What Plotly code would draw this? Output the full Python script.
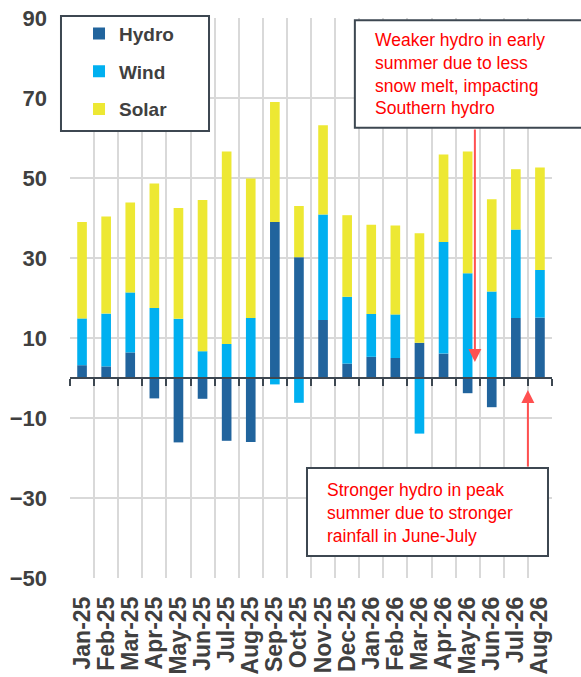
import plotly.graph_objects as go

months = ["Jan-25", "Feb-25", "Mar-25", "Apr-25", "May-25", "Jun-25", "Jul-25", "Aug-25",
          "Sep-25", "Oct-25", "Nov-25", "Dec-25", "Jan-26", "Feb-26", "Mar-26", "Apr-26",
          "May-26", "Jun-26", "Jul-26", "Aug-26"]
hydro = [3.2, 2.9, 6.4, -5.1, -16.1, -5.2, -15.7, -16.0, 39.0, 30.2,
         14.5, 3.6, 5.3, 5.0, 8.8, 6.1, -3.8, -7.3, 15.0, 15.1]
wind = [11.7, 13.2, 15.0, 17.5, 14.8, 6.7, 8.5, 15.0, -1.6, -6.2,
        26.4, 16.7, 10.7, 10.9, -13.9, 27.9, 26.2, 21.6, 22.1, 11.9]
solar = [24.1, 24.3, 22.5, 31.1, 27.7, 37.8, 48.1, 34.9, 30.0, 12.8,
         22.3, 20.4, 22.3, 22.2, 27.4, 21.9, 30.4, 23.1, 15.1, 25.6]
y_ticks = [-50, -30, -10, 10, 30, 50, 70, 90]

note_early = "Weaker hydro in early<br>summer due to less<br>snow melt, impacting<br>Southern hydro"
note_peak = "Stronger hydro in peak<br>summer due to stronger<br>rainfall in June-July"

C_HYDRO = "#21649D"
C_WIND = "#00B0F0"
C_SOLAR = "#EDE833"
TXT = "#404040"
GRID = "#D9D9D9"
AXIS = "#3D4751"
RED = "#FF0000"
ARROW = "#FF5050"
FONT = "Arial, Liberation Sans, sans-serif"

fig = go.Figure()
for name, vals, col in [("Hydro", hydro, C_HYDRO), ("Wind", wind, C_WIND), ("Solar", solar, C_SOLAR)]:
    fig.add_trace(go.Bar(x=months, y=vals, name=name, marker=dict(color=col, line=dict(width=0)),
                         legendgroup=name))

# invisible helper trace to carry the zero-line tick axis
fig.add_trace(go.Scatter(x=months, y=hydro, xaxis="x2", mode="markers",
                         marker=dict(opacity=0), showlegend=False, hoverinfo="skip"))

fig.update_layout(
    width=581, height=677,
    margin=dict(l=70, r=29, t=18, b=99),
    template="none",
    paper_bgcolor="white", plot_bgcolor="white",
    barmode="relative", bargap=0.6,
    font=dict(family=FONT, color=TXT),
    showlegend=True,
    legend=dict(x=0.0187, y=1.006, xanchor="left", yanchor="top",
                bgcolor="rgba(0,0,0,0)", borderwidth=0,
                traceorder="grouped", tracegroupgap=10,
                font=dict(family=FONT, size=19, color=TXT, weight="bold")),
    xaxis=dict(type="category", range=[-0.5, 19.5], tickson="boundaries",
               tickmode="linear", dtick=1,
               showgrid=True, gridcolor=GRID, gridwidth=2, ticks="", showline=False,
               zeroline=False, tickangle=-90, ticklabelstandoff=13,
               tickfont=dict(family=FONT, size=23, color=TXT, weight="bold"),
               automargin=False),
    xaxis2=dict(type="category", overlaying="x", anchor="free", position=50 / 140,
                range=[-0.5, 19.5], tickson="boundaries", tickmode="linear", dtick=1,
                showgrid=False,
                showticklabels=False, ticks="outside", ticklen=7, tickwidth=2,
                tickcolor=AXIS, showline=True, linecolor=AXIS, linewidth=2,
                zeroline=False, automargin=False),
    yaxis=dict(range=[-50, 90], tickvals=y_ticks, showgrid=True, gridcolor=GRID,
               gridwidth=2, zeroline=False, showline=False, ticks="",
               ticklabelstandoff=22,
               tickfont=dict(family=FONT, size=22, color=TXT, weight="bold"),
               automargin=False),
)

# Legend frame and note boxes (paper coordinates)
fig.add_shape(type="rect", xref="paper", yref="paper", x0=-0.0187, x1=0.2884, y0=0.798, y1=1.0036,
              line=dict(color=AXIS, width=2), fillcolor="white", layer="above")
fig.add_shape(type="rect", xref="paper", yref="paper", x0=0.591, x1=1.07, y0=0.804, y1=0.996,
              line=dict(color=AXIS, width=2), fillcolor="white", layer="above")
fig.add_shape(type="rect", xref="paper", yref="paper", x0=0.4917, x1=0.9917, y0=0.0393, y1=0.1964,
              line=dict(color=AXIS, width=2), fillcolor="white", layer="above")

fig.add_annotation(xref="paper", yref="paper", x=0.628, y=0.8996, xanchor="left", yanchor="middle",
                   text=note_early, showarrow=False, align="left",
                   font=dict(family=FONT, size=17.5, color=RED))
fig.add_annotation(xref="paper", yref="paper", x=0.530, y=0.1155, xanchor="left", yanchor="middle",
                   text=note_peak, showarrow=False, align="left",
                   font=dict(family=FONT, size=17.5, color=RED))

# Arrows
fig.add_annotation(x=16.3, y=4, xref="x", yref="y", text="", showarrow=True, ax=0, ay=-234,
                   arrowhead=2, arrowsize=1.3, arrowwidth=2, arrowcolor=ARROW, standoff=0)
fig.add_annotation(x=18.5, y=-3, xref="x", yref="y", text="", showarrow=True, ax=0, ay=78,
                   arrowhead=2, arrowsize=1.3, arrowwidth=2, arrowcolor=ARROW, standoff=0)

fig.write_html("out.html", config={"displayModeBar": False},
               post_script="document.body.style.margin='0';")
